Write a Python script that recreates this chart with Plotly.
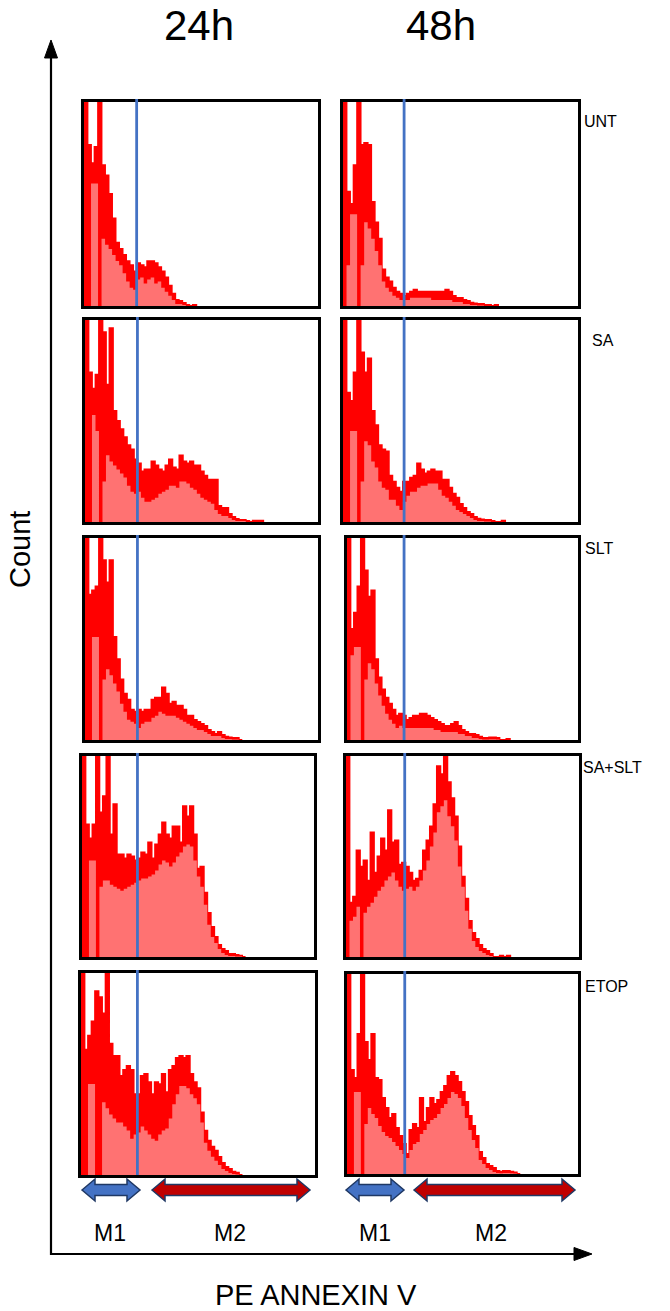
import plotly.graph_objects as go

W, H = 670, 1311
BIN = 1.5  # histogram channel width, in panel x-units (0-100)

# ---------------- data: upper edge (hi) and lower edge (lo) of the red band, % of panel height
unt24_hi = [100,79,70,78,100,69,64,55,43,31,28,25,22,20,17,21,20,19,22,22,21,19,17,14,10,6,3,2.5,1.5,0.5,0,0.5]
unt24_lo = [0,0,60,60,0,33,30,28,25,22,20,16,12,9,8,13,14,11,13,14,11,12,9,7,5,3,1,1,0.5,0,0,0]
unt48_hi = [100,56,50,69,100,79,80,79,51,41,33,18,14,12,9,7,6,5,6,7,8,7,7,7,7,7,7,7,7,8,7,5,4,4,3,2.5,1.7,1.3,1,1,0.5,0.5,0,0.5]
unt48_lo = [0,20,45,45,0,20,41,38,33,27,20,12,9,7,5,4,3,3,3,4,4,4,4,4,4,3,3,3,3,3,3,2,2,2,1,1,0.5,0.5,0.3,0.3,0,0,0,0]
sa24_hi = [100,74,66,73,100,94,68,96,55,50,46,42,38,36,31,29,25,26,26,30,28,26,25,28,31,27,26,33,30,29,30,28,28,25,23,21,21,21,8,7,7,4,2.5,1.5,1,1,0.5,0,0.7,0.7,0.7]
sa24_lo = [0,0,53,45,0,20,33,30,28,26,24,22,18,15,14,15,12,10,10,11,12,14,15,16,18,18,17,20,20,19,17,16,14,12,11,10,9,6,4,3,3,2,1,0.5,0.5,0.5]
sa48_hi = [100,64,60,74,100,84,74,81,55,48,38,36,35,23,20,17,15,20,20,22,23,29,26,24,25,26,25,25,21,21,17,14,12,9,7,5,4,2.5,1.7,1.3,1,1,0.5,0,0,0.7]
sa48_lo = [0,0,45,45,0,20,40,38,30,27,20,17,16,11,11,8,6,10,13,15,15,17,18,18,19,19,19,16,13,12,10,8,6,5,4,3,2,1,0.5,0.5,0.3,0.3]
slt24_hi = [100,72,74,76,100,89,78,89,51,40,30,23,20,15,14,15,14,15,15,20,21,21,26,23,18,19,17,17,15,12,12,10,9,8,7,5,4,3,4,2.5,1.7,1.3,1,1,0]
slt24_lo = [0,0,51,51,0,30,35,32,28,24,18,14,10,9,8,6,8,9,9,11,12,14,13,12,12,12,11,10,9,8,7,6,5,5,4,3,2,2,2,1,0.5,0.5,0.3,0.3]
slt48_hi = [100,55,63,76,100,84,71,74,40,31,25,21,18,15,12,13,12,10,11,12,12,13,13,12,11,10,9,8,7,7,8,9,7,5,4,3,3,2.5,1.7,1,1,1.3,1.3,1,0,0,0.5]
slt48_lo = [0,42,46,46,0,30,38,35,28,22,17,13,10,8,6,7,6,6,6,6,6,6,6,6,6,5,5,4,4,4,4,4,3,3,2,2,1,1,0.5,0.3,0.3,0.4,0.4,0.3]
saslt24_hi = [100,66,59,66,100,72,80,100,61,76,51,51,49,51,50,48,49,52,51,57,49,56,61,67,61,59,65,65,57,75,70,75,61,44,45,32,22,15,10,6,4,3,1.5,1.5,1,0.7,0]
saslt24_lo = [0,0,48,48,0,35,38,38,36,35,34,33,34,35,36,37,38,39,39,40,41,43,46,48,47,45,47,50,52,55,56,55,48,40,35,26,16,10,7,4,2,1,0.5,0.5,0.3,0.2]
saslt48_hi = [100,27,30,53,45,48,38,62,42,50,59,53,73,57,58,46,47,45,42,38,39,43,53,58,65,76,95,91,100,87,79,70,55,40,29,18,12,9,6,4,3,1.5,0,0,0.7,0,0.7]
saslt48_lo = [0,18,20,25,0,22,25,27,30,33,35,38,40,42,38,35,33,34,35,33,35,38,43,48,55,62,72,75,78,70,65,58,45,35,23,14,8,5,3,2,1,0.5]
etop24_hi = [100,62,69,76,91,88,80,100,65,59,59,49,52,54,52,40,40,49,50,46,40,46,45,50,41,52,54,58,59,58,59,50,46,43,31,22,17,14,12,9,6,4,3,1.7,1.2,0]
etop24_lo = [0,0,45,45,0,0,36,33,30,28,26,26,24,22,18,20,21,24,22,20,18,17,20,22,23,28,35,40,44,44,43,40,38,35,26,16,12,9,7,5,3,2,1,0.5,0.3]
etop48_hi = [100,52,48,70,100,66,57,70,48,47,38,33,28,30,23,19,15,10,22,25,23,38,26,33,38,35,37,41,44,49,51,49,46,41,36,29,24,19,11,8,5,4,3,1.5,1.2,1.5,1.5,1.2,0.8,0]
etop48_lo = [0,0,41,41,0,25,33,30,28,24,21,19,18,16,14,12,10,8,12,15,16,20,22,25,27,28,30,33,35,38,41,40,38,34,28,22,17,13,7,5,3,2,1,0.5,0.4,0.5,0.5,0.4,0.3]

# M1/M2 gate positions (panel x-units)
gates = [22.5, 26, 22.5, 26, 22.5, 24.7, 23.9, 25.2, 24.1, 25]

col_titles = ["24h", "48h"]
row_labels = ["UNT", "SA", "SLT", "SA+SLT", "ETOP"]
gate_labels = ["M1", "M2"]
x_title = "PE ANNEXIN V"
y_title = "Count"

series = [(unt24_hi, unt24_lo), (unt48_hi, unt48_lo), (sa24_hi, sa24_lo), (sa48_hi, sa48_lo),
          (slt24_hi, slt24_lo), (slt48_hi, slt48_lo), (saslt24_hi, saslt24_lo), (saslt48_hi, saslt48_lo),
          (etop24_hi, etop24_lo), (etop48_hi, etop48_lo)]

# panel boxes in pixels: left, top, right, bottom
boxes = [(84, 102, 318, 306), (343, 102, 578, 306),
         (85, 320, 318, 522), (343, 320, 578, 522),
         (85, 538, 318, 740), (347, 538, 578, 740),
         (82, 756, 314, 957), (346, 756, 579, 957),
         (81, 973, 315, 1175), (347, 974, 578, 1174)]

FONT = "Liberation Sans, Arial, sans-serif"
RED = "#FF0000"
PINK = "#FF7272"
BLUE = "#4472C4"


def px(x):
    return x / W


def py(y):
    return 1 - y / H


fig = go.Figure()
layout = dict(width=W, height=H, margin=dict(l=0, r=0, t=0, b=0),
              paper_bgcolor="white", plot_bgcolor="white", showlegend=False)
shapes = []
annotations = []

for k, ((hi, lo), (l, t, r, b)) in enumerate(zip(series, boxes)):
    sfx = "" if k == 0 else str(k + 1)
    n = len(hi)
    lo = (lo + [0] * n)[:n]
    xs = [i * BIN for i in range(n)] + [n * BIN]
    fig.add_trace(go.Scatter(x=xs, y=hi + [0], mode="lines",
                             line=dict(shape="hv", color=RED, width=1.8),
                             fill="tozeroy", fillcolor=RED,
                             xaxis="x" + sfx, yaxis="y" + sfx, hoverinfo="skip"))
    fig.add_trace(go.Scatter(x=xs, y=lo + [0], mode="lines",
                             line=dict(shape="hv", color=PINK, width=0),
                             fill="tozeroy", fillcolor=PINK,
                             xaxis="x" + sfx, yaxis="y" + sfx, hoverinfo="skip"))
    ax = dict(showgrid=False, zeroline=False, showticklabels=False, ticks="",
              showline=True, mirror=True, linecolor="black", linewidth=2.5, fixedrange=True)
    layout["xaxis" + sfx] = dict(ax, domain=[px(l), px(r)], range=[0, 100], anchor="y" + sfx)
    layout["yaxis" + sfx] = dict(ax, domain=[py(b), py(t)], range=[0, 100], anchor="x" + sfx)
    shapes.append(dict(type="line", xref="x" + sfx, yref="paper", x0=gates[k], x1=gates[k],
                       y0=py(b), y1=py(t - 3), line=dict(color=BLUE, width=2.8)))

# column titles
for txt, xc in zip(col_titles, [199, 441]):
    annotations.append(dict(text=txt, x=px(xc), y=py(25), xref="paper", yref="paper",
                            showarrow=False, xanchor="center", yanchor="middle",
                            font=dict(family=FONT, size=42, color="black")))

# row labels
for txt, (xl, yc) in zip(row_labels, [(582, 121), (590, 340), (583, 548), (581, 767), (583, 986)]):
    annotations.append(dict(text=txt, x=px(xl), y=py(yc), xref="paper", yref="paper",
                            showarrow=False, xanchor="left", yanchor="middle",
                            font=dict(family=FONT, size=16, color="black")))

# axis titles
annotations.append(dict(text=x_title, x=px(316), y=py(1295), xref="paper", yref="paper",
                        showarrow=False, xanchor="center", yanchor="middle",
                        font=dict(family=FONT, size=29, color="black")))
annotations.append(dict(text=y_title, x=px(20), y=py(550), xref="paper", yref="paper",
                        showarrow=False, xanchor="center", yanchor="middle", textangle=-90,
                        font=dict(family=FONT, size=29, color="black")))

# gate labels
for (xc, txt) in [(110, gate_labels[0]), (230, gate_labels[1]), (375, gate_labels[0]), (491, gate_labels[1])]:
    annotations.append(dict(text=txt, x=px(xc), y=py(1233), xref="paper", yref="paper",
                            showarrow=False, xanchor="center", yanchor="middle",
                            font=dict(family=FONT, size=23, color="black")))


def path(points):
    return "M " + " L ".join(f"{px(x):.5f},{py(y):.5f}" for x, y in points) + " Z"


def darrow(x0, x1, yc, fill):
    hl, hh, sh = 13, 11, 5.5
    pts = [(x0, yc), (x0 + hl, yc - hh), (x0 + hl, yc - sh), (x1 - hl, yc - sh), (x1 - hl, yc - hh),
           (x1, yc), (x1 - hl, yc + hh), (x1 - hl, yc + sh), (x0 + hl, yc + sh), (x0 + hl, yc + hh)]
    return dict(type="path", xref="paper", yref="paper", path=path(pts),
                fillcolor=fill, line=dict(color="#1F3864", width=1.5))


for x0, x1, c in [(82, 140, BLUE), (152, 310, "#C00000"), (346, 404, BLUE), (414, 575, "#C00000")]:
    shapes.append(darrow(x0, x1, 1190, c))

# main axes arrows
shapes.append(dict(type="line", xref="paper", yref="paper", x0=px(51), x1=px(51), y0=py(1255), y1=py(55),
                   line=dict(color="black", width=2.2)))
shapes.append(dict(type="path", xref="paper", yref="paper", path=path([(51, 40), (44.5, 58), (57.5, 58)]),
                   fillcolor="black", line=dict(color="black", width=1)))
shapes.append(dict(type="line", xref="paper", yref="paper", x0=px(50), x1=px(576), y0=py(1254), y1=py(1254),
                   line=dict(color="black", width=2.2)))
shapes.append(dict(type="path", xref="paper", yref="paper", path=path([(592, 1254), (574, 1247.5), (574, 1260.5)]),
                   fillcolor="black", line=dict(color="black", width=1)))

layout["shapes"] = shapes
layout["annotations"] = annotations
fig.update_layout(**layout)
fig.write_html("out.html", config={"displayModeBar": False},
               post_script="document.body.style.margin='0';document.body.style.overflow='hidden';")
